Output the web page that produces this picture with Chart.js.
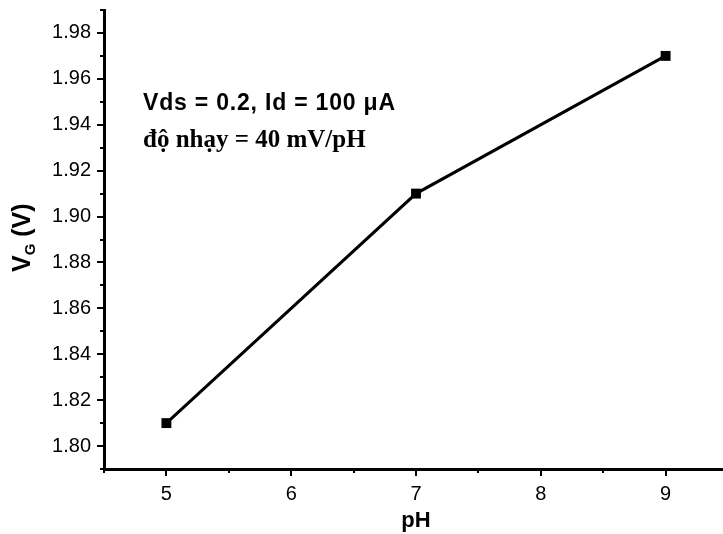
<!DOCTYPE html>
<html>
<head>
<meta charset="utf-8">
<style>
  html, body { margin: 0; padding: 0; overflow: hidden; background: #fff; }
  canvas { display: block; }
</style>
<script src="https://cdn.jsdelivr.net/npm/chart.js@4.4.1/dist/chart.umd.min.js"></script>
</head>
<body>
<canvas id="vg-chart" width="735" height="534"></canvas>
<script>
// pH sweep and measured gate voltage
var phValues = [5, 7, 9];
var vgValues = [1.81, 1.91, 1.97];

// axis ticks (major labelled, minor unlabelled)
var xTickValues = [5, 6, 7, 8, 9];
var xMinorTicks = [4.5, 5.5, 6.5, 7.5, 8.5, 9.5];
var yTickValues = [1.80, 1.82, 1.84, 1.86, 1.88, 1.90, 1.92, 1.94, 1.96, 1.98];
var yMinorTicks = [1.79, 1.81, 1.83, 1.85, 1.87, 1.89, 1.91, 1.93, 1.95, 1.97, 1.99];

var annotationLines = ["Vds = 0.2, Id = 100 \u03bcA", "\u0111\u1ed9 nh\u1ea1y = 40 mV/pH"];

(function () {
    var sans = "'Liberation Sans', Arial, sans-serif";
    var serif = "'Liberation Serif', 'Times New Roman', serif";

    // minor ticks, y title with subscript and the text block
    var extras = {
        id: "extras",
        afterDraw: function (chart) {
            var ctx = chart.ctx;
            var area = chart.chartArea;
            var xs = chart.scales.x, ys = chart.scales.y;
            ctx.save();
            ctx.strokeStyle = "#000";
            ctx.lineWidth = 2;
            ctx.beginPath();
            yMinorTicks.forEach(function (v) {
                var py = Math.round(ys.getPixelForValue(v));
                ctx.moveTo(area.left - 4, py);
                ctx.lineTo(area.left, py);
            });
            xMinorTicks.forEach(function (v) {
                var px = Math.round(xs.getPixelForValue(v));
                ctx.moveTo(px, area.bottom);
                ctx.lineTo(px, area.bottom + 4);
            });
            ctx.stroke();

            // y axis title: V_G (V)
            ctx.fillStyle = "#000";
            ctx.translate(30, 272);
            ctx.rotate(-Math.PI / 2);
            ctx.textBaseline = "alphabetic";
            ctx.textAlign = "left";
            ctx.font = "bold 25px " + sans;
            ctx.fillText("V", 0, 0);
            var w = ctx.measureText("V").width;
            ctx.font = "bold 15px " + sans;
            ctx.fillText("G", w, 5);
            w += ctx.measureText("G").width;
            ctx.font = "bold 25px " + sans;
            ctx.fillText(" (V)", w, 0);
            ctx.restore();

            ctx.save();
            ctx.fillStyle = "#000";
            ctx.textBaseline = "alphabetic";
            ctx.font = "bold 23px " + sans;
            ctx.letterSpacing = "0.8px";
            ctx.fillText(annotationLines[0], 143, 110);
            ctx.letterSpacing = "0px";
            ctx.font = "bold 25px " + serif;
            ctx.fillText(annotationLines[1], 143, 147);
            ctx.restore();
        }
    };

    var points = phValues.map(function (x, i) {
        return { x: x, y: vgValues[i] };
    });

    new Chart(document.getElementById("vg-chart"), {
        type: "line",
        data: {
            datasets: [{
                data: points,
                borderColor: "#000",
                borderWidth: 3,
                backgroundColor: "#000",
                pointStyle: "rect",
                pointRadius: 7,
                pointBorderWidth: 0,
                pointBackgroundColor: "#000",
                tension: 0
            }]
        },
        options: {
            responsive: false,
            animation: false,
            layout: { padding: { top: 10, right: 0, bottom: 0, left: 0 } },
            plugins: { legend: { display: false }, tooltip: { enabled: false } },
            scales: {
                x: {
                    type: "linear",
                    min: 4.5,
                    max: 9.5,
                    afterBuildTicks: function (s) {
                        s.ticks = xTickValues.map(function (v) { return { value: v }; });
                    },
                    afterFit: function (s) {
                        s.height = 65;
                        s.paddingLeft = 0;
                        s.paddingRight = 0;
                    },
                    grid: { drawOnChartArea: false, color: "#000", lineWidth: 2, tickLength: 7 },
                    border: { color: "#000", width: 3 },
                    ticks: { color: "#000", padding: 6, font: { family: sans, size: 20 } },
                    title: {
                        display: true, text: "pH", color: "#000",
                        padding: { top: 0, bottom: 0 },
                        font: { family: sans, size: 22, weight: "bold" }
                    }
                },
                y: {
                    min: 1.79,
                    max: 1.99,
                    afterBuildTicks: function (s) {
                        s.ticks = yTickValues.map(function (v) { return { value: v }; });
                    },
                    afterFit: function (s) {
                        s.width = 104;
                        s.paddingTop = 0;
                        s.paddingBottom = 0;
                    },
                    grid: { drawOnChartArea: false, color: "#000", lineWidth: 2, tickLength: 7 },
                    border: { color: "#000", width: 3 },
                    ticks: {
                        color: "#000", padding: 6, font: { family: sans, size: 20 },
                        callback: function (v) { return Number(v).toFixed(2); }
                    }
                }
            }
        },
        plugins: [extras]
    });
})();
</script>
</body>
</html>
